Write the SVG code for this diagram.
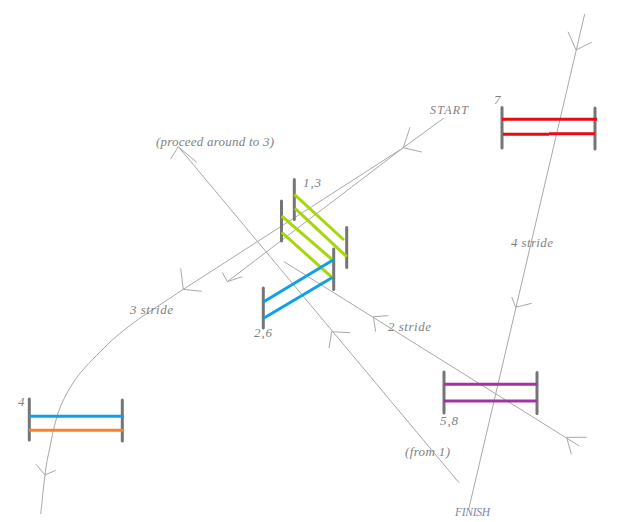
<svg xmlns="http://www.w3.org/2000/svg" width="640" height="522" viewBox="0 0 640 522">
<style>
.c{fill:none;stroke:#a8a8a8;stroke-width:1}
.p{fill:none;stroke:#757575;stroke-width:3;stroke-linecap:round}
.b{fill:none;stroke-width:3}
.g{stroke:#a8d60e}.bl{stroke:#0ea1ea}.o{stroke:#ff7f27}.pu{stroke:#a333a3}.r{stroke:#ea0a14}
text{font-family:"Liberation Serif",serif;font-style:italic;font-size:13px;fill:#7f7f7f}
</style>
<rect width="640" height="522" fill="#fff"/>
<g id="connectors">
<path class="c" d="M444 118L403.300 147.700L183.300 289.300L140 318C125 329 112 339 100 352C90 362 80 372 73 383C67 392 62 402 58 413C55 423 52 435 50 447C48 456 46 465 45 475C43 490 42 503 40.700 514"/>
<path class="c" d="M403.300 147.700L227.300 281.700"/>
<path class="c" d="M410 127.300L403.300 147.700L421.700 152"/>
<path class="c" d="M180.700 268.300L183.300 289.300L201.700 291.300"/>
<path class="c" d="M36 464.300L45 475L55.700 470.300"/>
<path class="c" d="M222.300 272.300L227.300 281.700L242.300 276.700"/>
<path class="c" d="M178.300 146.700L459 482.700"/>
<path class="c" d="M170.700 159L178.300 146.700L196.700 162.300"/>
<path class="c" d="M350 332.700L331.700 331.700L329 348"/>
<path class="c" d="M284 261.700L579.300 446"/>
<path class="c" d="M388.300 315.700L373.300 316.700L375.700 331.700"/>
<path class="c" d="M586.700 437.300L566.700 437.300L571.300 454.300"/>
<path class="c" d="M584.700 14L469 508"/>
<path class="c" d="M568 31.700L576 50L591.700 42.300"/>
<path class="c" d="M511.700 297L515.700 307.300L531.700 303.300"/>
</g>
<g id="hurdle-1-3">
<path class="p" d="M294.300 179.500V219.500M346.700 227.500V267.500"/>
<path class="b g" d="M294.300 194.300L344 240M295 208.300L346.700 256.700"/>
<text x="303" y="187" textLength="18">1,3</text>
</g>
<g id="hurdle-green-2">
<path class="p" d="M281.500 201V241M333.700 249V289.500"/>
<path class="b g" d="M281.700 216L332.700 260M281.700 232.300L332 277.300"/>
</g>
<g id="hurdle-2-6">
<path class="p" d="M263.300 288V328"/>
<path class="b bl" d="M263.300 302L334.300 259.300M264 318L332.700 277.300"/>
<text x="254" y="337" textLength="18">2,6</text>
</g>
<g id="hurdle-4">
<path class="p" d="M29.300 399V440M122.300 400V441"/>
<path class="b bl" d="M29 416.300H124"/>
<path class="b o" d="M29 430.300H124"/>
<text x="18" y="406" textLength="6">4</text>
</g>
<g id="hurdle-5-8">
<path class="p" d="M444 372V413M537 372.500V413.500"/>
<path class="b pu" d="M444 384.300H537M444 401H537"/>
<text x="440" y="425" textLength="18">5,8</text>
</g>
<g id="hurdle-7">
<path class="p" d="M502 107.500V148M595 108V149"/>
<path class="b r" d="M502 119.300H597M503 134.300H549M549 133.700H595"/>
<text x="494" y="104" textLength="6">7</text>
</g>
<g id="labels">
<text x="430" y="114" textLength="38" style="font-size:12px">START</text>
<text x="156" y="146" textLength="118">(proceed around to 3)</text>
<text x="130" y="314" textLength="43">3 stride</text>
<text x="388" y="331" textLength="43">2 stride</text>
<text x="511" y="247" textLength="42">4 stride</text>
<text x="405" y="456" textLength="45">(from 1)</text>
<text x="455" y="516" textLength="35" style="fill:#7b86a8;font-size:11.500px">FINISH</text>
</g>
</svg>
